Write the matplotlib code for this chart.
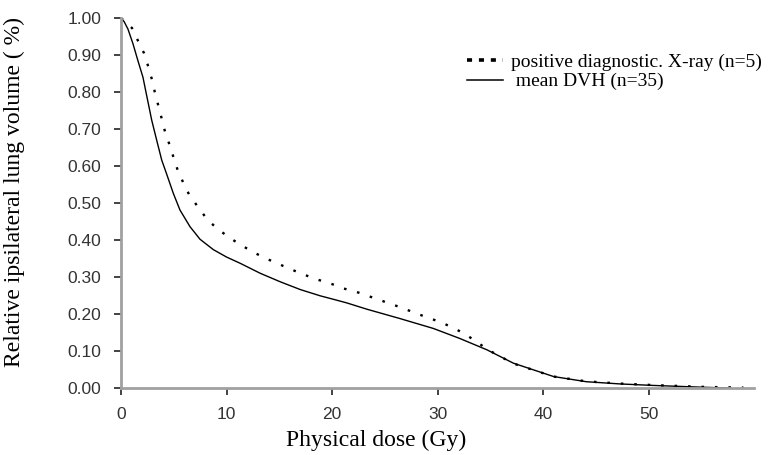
import numpy as np
import matplotlib
matplotlib.use('Agg')
import matplotlib.pyplot as plt
from matplotlib.lines import Line2D

# mean DVH (n=35)
dose_mean = [0, 0.3, 0.66, 1.14, 1.6, 2.08, 2.4, 2.91, 3.38, 3.86, 4.33, 4.96, 5.59,
             6.54, 7.49, 8.75, 10.0, 11.3, 13.2, 15.1, 17.0, 18.9, 20.1, 21.4, 23.3,
             26.4, 29.6, 32.1, 34.7, 37.2, 41.0, 44.1, 47.3, 50.4, 55.2, 57.5]
vol_mean = [1.0, 0.99, 0.97, 0.93, 0.885, 0.84, 0.795, 0.724, 0.67, 0.616, 0.578,
            0.526, 0.481, 0.436, 0.402, 0.374, 0.354, 0.337, 0.31, 0.287, 0.266,
            0.249, 0.24, 0.23, 0.213, 0.188, 0.161, 0.134, 0.103, 0.067, 0.031,
            0.017, 0.011, 0.007, 0.002, 0.0]

# positive diagnostic X-ray (n=5)
dose_pos = [0, 1.04, 1.6, 2.18, 2.56, 2.97, 3.2, 3.85, 4.17, 4.58, 4.96, 5.37, 5.9,
            6.47, 7.23, 8.03, 8.9, 10.0, 11.1, 12.3, 13.5, 14.8, 16.0, 17.3, 18.5,
            19.8, 21.1, 22.5, 23.8, 25.0, 26.3, 27.6, 28.8, 30.2, 31.4, 32.6, 33.7,
            34.8, 37.2, 41.0, 44.1, 47.3, 50.4, 55.2, 59.0]
vol_pos = [1.0, 0.973, 0.939, 0.905, 0.871, 0.83, 0.80, 0.729, 0.693, 0.659, 0.625,
           0.589, 0.555, 0.522, 0.492, 0.461, 0.436, 0.412, 0.391, 0.371, 0.353,
           0.337, 0.322, 0.307, 0.294, 0.283, 0.269, 0.258, 0.245, 0.233, 0.22,
           0.206, 0.193, 0.179, 0.164, 0.146, 0.125, 0.103, 0.066, 0.031, 0.018,
           0.012, 0.008, 0.003, 0.001]

xticks = [0, 10, 20, 30, 40, 50]
yticks = np.arange(0, 1.01, 0.1)
labels = ['positive diagnostic. X-ray (n=5)', ' mean DVH (n=35)']

serif = ['Liberation Serif', 'DejaVu Serif']
sans = ['Liberation Sans', 'DejaVu Sans']

fig = plt.figure(figsize=(7.74, 4.55), dpi=100)
ax = fig.add_axes([121/774, 1 - 388/455, (754-121)/774, (388-18)/455])

ax.plot(dose_pos, vol_pos, color='black', lw=1.7, linestyle=(0, (1.1, 4.6)))
ax.plot(dose_mean, vol_mean, color='black', lw=1.0)

ax.set_xlim(0, 60)
ax.set_ylim(0, 1.0)
ax.set_xticks(xticks)
ax.set_yticks(yticks)
ax.set_yticklabels(['%.2f' % v for v in yticks])

for s in ['top', 'right']:
    ax.spines[s].set_visible(False)
for s in ['left', 'bottom']:
    ax.spines[s].set_color('#a0a0a0')
    ax.spines[s].set_linewidth(2.0)
ax.tick_params(direction='out', length=5, width=1.2, color='#222222',
               labelcolor='#333333', pad=9)
for lab in ax.get_xticklabels() + ax.get_yticklabels():
    lab.set_family(sans)
    lab.set_fontsize(12.5)

ax.set_xlabel('Physical dose (Gy)', family=serif, fontsize=17)
ax.xaxis.set_label_coords(0.403, -0.113)
ax.set_ylabel('Relative ipsilateral lung volume ( %)', family=serif, fontsize=17)
ax.yaxis.set_label_coords(-0.152, 0.531)

# legend handles: dashed proxy looks like the printed key
h1 = Line2D([], [], color='black', lw=2.6, linestyle=(0, (1.4, 1.9)))
h2 = Line2D([], [], color='black', lw=1.1)
ax.legend([h1, h2], labels, loc='upper left', bbox_to_anchor=(0.546, 0.905),
          frameon=False, prop={'family': serif, 'size': 14}, handlelength=1.85,
          handletextpad=0.45, labelspacing=0.1, borderpad=0, borderaxespad=0)

fig.savefig('out.png', dpi=100)
